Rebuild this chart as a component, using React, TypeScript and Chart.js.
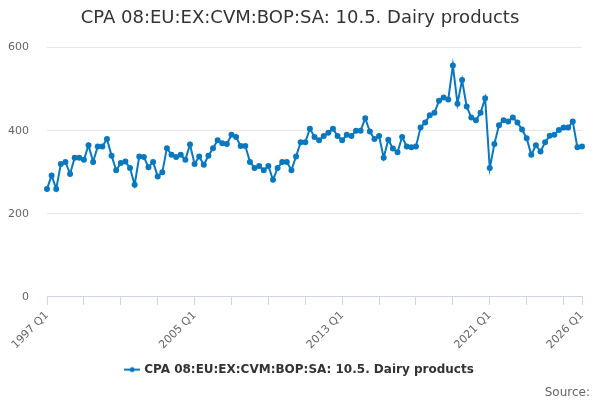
import { useEffect, useRef } from "react"
import { Chart, registerables } from "chart.js"

Chart.register(...registerables)

const seriesName = "CPA 08:EU:EX:CVM:BOP:SA: 10.5. Dairy products"
const sourceText = "Source:"

// quarters from 1997 Q1 to 2026 Q1
const quarters: string[] = []
for (let y = 1997; y <= 2026; y++) {
  for (let q = 1; q <= 4; q++) {
    if (y === 2026 && q > 1) break
    quarters.push(`${y} Q${q}`)
  }
}

const dairyValues = [
  260, 292, 260, 320, 325, 296, 335, 335, 330, 365, 325, 362, 362, 380, 340, 305,
  322, 326, 310, 270, 338, 337, 312, 325, 290, 300, 358, 342, 337, 342, 330, 367,
  320, 338, 318, 340, 358, 377, 370, 368, 390, 385, 363, 363, 325, 310, 315, 305,
  315, 282, 310, 325, 325, 305, 338, 372, 372, 405, 385, 377, 387, 395, 405, 387,
  377, 390, 387, 400, 400, 430, 398, 380, 387, 335, 378, 357, 348, 385, 362, 360,
  362, 408, 420, 437, 443, 472, 480, 475, 557, 465, 522, 458, 432, 425, 443, 478,
  310, 368, 413, 425, 422, 432, 420, 403, 382, 342, 365, 350, 372, 388, 390, 402,
  408, 408, 422, 360, 362,
]

const labelledTicks = ["1997 Q1", "2005 Q1", "2013 Q1", "2021 Q1", "2026 Q1"]
const yTicks = [0, 200, 400, 600]

const lineColor = "#0a78bf"

function legendMarker() {
  const c = document.createElement("canvas")
  c.width = 16
  c.height = 8
  const g = c.getContext("2d")
  if (g) {
    g.strokeStyle = lineColor
    g.lineWidth = 2
    g.beginPath()
    g.moveTo(0, 4)
    g.lineTo(16, 4)
    g.stroke()
    g.fillStyle = lineColor
    g.beginPath()
    g.arc(8, 4, 2.5, 0, Math.PI * 2)
    g.fill()
  }
  return c
}

// pull the "Source:" line a little in from the right edge
const sourceInset = {
  id: "sourceInset",
  afterLayout(chart: any) {
    chart.boxes.forEach((b: any) => {
      if (b.options && b.options.text === sourceText && b.position === "bottom") {
        b.right -= 6
      }
    })
  },
}

export default function App() {
  const chartRef = useRef<HTMLCanvasElement>(null)
  const chartInstance = useRef<Chart | null>(null)

  useEffect(() => {
    if (!chartRef.current) return
    if (chartInstance.current) chartInstance.current.destroy()
    const ctx = chartRef.current.getContext("2d")
    if (!ctx) return

    const marker = legendMarker()
    const font = "'DejaVu Sans', sans-serif"

    chartInstance.current = new Chart(ctx, {
      type: "line",
      data: {
        labels: quarters,
        datasets: [
          {
            label: seriesName,
            data: dairyValues,
            borderColor: lineColor,
            backgroundColor: lineColor,
            borderWidth: 2,
            pointRadius: 2,
            pointHoverRadius: 3,
            pointStyle: "circle",
            tension: 0,
          },
        ],
      },
      plugins: [sourceInset],
      options: {
        animation: false,
        responsive: true,
        maintainAspectRatio: false,
        layout: { padding: { left: 4, right: 4, top: 0, bottom: 0 } },
        plugins: {
          title: {
            display: true,
            text: seriesName,
            color: "#333333",
            font: { family: font, size: 18, weight: "normal" },
            padding: { top: 8, bottom: 18 },
          },
          subtitle: {
            display: true,
            text: sourceText,
            position: "bottom",
            align: "end",
            color: "#666666",
            font: { family: font, size: 12 },
            padding: { top: 0, bottom: 0 },
          },
          legend: {
            position: "bottom",
            labels: {
              usePointStyle: true,
              color: "#333333",
              font: { family: font, size: 12, weight: "bold" },
              padding: 0,
              generateLabels: () => [
                {
                  text: seriesName,
                  pointStyle: marker as any,
                  fillStyle: lineColor,
                  strokeStyle: lineColor,
                  lineWidth: 0,
                  datasetIndex: 0,
                  fontColor: "#333333",
                },
              ],
            },
          },
          tooltip: { enabled: false },
        },
        scales: {
          x: {
            offset: false,
            afterFit: (scale: any) => {
              // room to the right like the reference, extra space above the legend
              scale.paddingRight = 18
              scale.height = scale.height + 8
            },
            grid: {
              drawOnChartArea: false,
              drawTicks: true,
              tickLength: 8,
              color: "#ccd6eb",
            },
            border: { color: "#ccd6eb" },
            ticks: {
              autoSkip: false,
              maxRotation: 45,
              minRotation: 45,
              color: "#666666",
              font: { family: font, size: 11 },
              padding: 4,
              callback: (_v, i) => {
                const lab = quarters[i]
                if (labelledTicks.includes(lab)) return lab
                if (i % 8 === 0) return ""
                return null
              },
            },
          },
          y: {
            min: 0,
            max: 600,
            afterFit: (scale: any) => {
              scale.width = 43
            },
            grid: { color: "#e6e6e6", drawTicks: false },
            border: { display: false },
            afterBuildTicks: (axis) => {
              axis.ticks = yTicks.map((v) => ({ value: v }))
            },
            ticks: {
              color: "#666666",
              font: { family: font, size: 11 },
              padding: 18,
            },
          },
        },
      },
    })

    return () => {
      if (chartInstance.current) {
        chartInstance.current.destroy()
        chartInstance.current = null
      }
    }
  }, [])

  return (
    <div style={{ position: "absolute", left: 0, top: 0, width: 600, height: 400, background: "#fff" }}>
      <canvas ref={chartRef} />
    </div>
  )
}
